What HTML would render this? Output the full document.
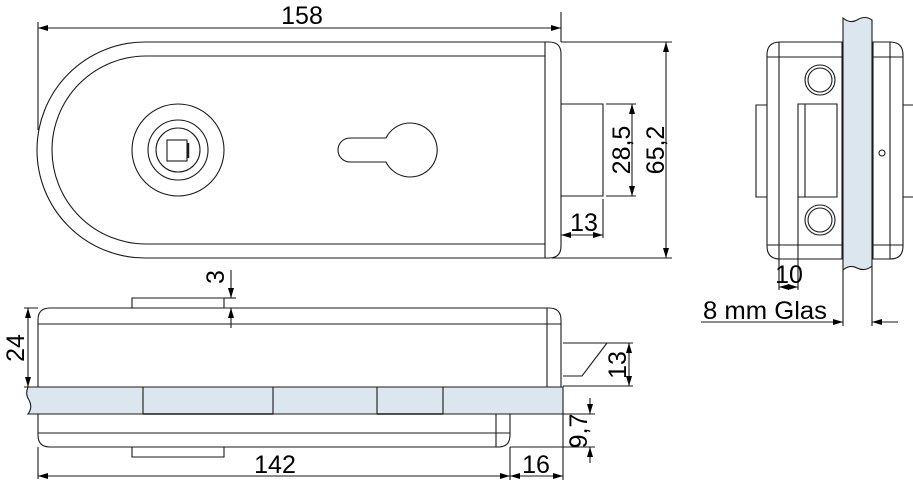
<!DOCTYPE html>
<html><head><meta charset="utf-8"><style>
html,body{margin:0;padding:0;background:#fff;}
svg{display:block;}
text{font-family:"Liberation Sans",sans-serif;font-size:25px;fill:#000;}
</style></head><body>
<svg width="913" height="480" viewBox="0 0 913 480" xmlns="http://www.w3.org/2000/svg">
<defs>
<marker id="a" markerWidth="10" markerHeight="6" refX="10" refY="3" orient="auto-start-reverse" markerUnits="userSpaceOnUse"><path d="M0,0 L10,3 L0,6 z" fill="#000"/></marker>
</defs>
<g fill="none" stroke="#1a1a1a" stroke-width="1.1">
<!-- TOP VIEW -->
<path d="M145,42 H549 Q561,42 561,54 V246 Q561,258 549,258 H145 A108,108 0 0 1 145,42 Z"/>
<path d="M146,56 H545 M545,42 V258 M146,244 H545 M146,56 A94,94 0 0 0 146,244"/>
<circle cx="178" cy="150" r="46"/>
<circle cx="178" cy="150" r="30"/>
<circle cx="178" cy="150" r="22"/>
<rect x="167" y="140" width="20" height="21"/>
<path d="M188,143 V158" stroke-width="2.5"/>
<path d="M386,138 H350 A12,12 0 0 0 350,162 H386 A27,27 0 1 0 386,138 Z"/>
<path d="M561,104 H603 V196 H561"/>
<path d="M38,28 H561" marker-start="url(#a)" marker-end="url(#a)"/>
<path d="M38,22 V130 M561,12 V42"/>
<path d="M606,104 H636 M606,196 H636"/>
<path d="M632,104 V196" marker-start="url(#a)" marker-end="url(#a)"/>
<path d="M561,42 H672 M552,258 H672"/>
<path d="M666,42 V258" marker-start="url(#a)" marker-end="url(#a)"/>
<path d="M603,199 V238"/>
<path d="M561,235 H603" marker-start="url(#a)" marker-end="url(#a)"/>

<!-- SIDE VIEW -->
<path d="M38,387 V320 Q38,308 50,308 H549 Q561,308 561,320 V387"/>
<path d="M38,324 H561 M547,308 V387"/>
<path d="M132,308 V298 H224 V308"/>
<path d="M231,270 V298" marker-end="url(#a)"/>
<path d="M231,328 V308" marker-end="url(#a)"/>
<path d="M224,298 H236"/>
<path d="M28,308 V387" marker-start="url(#a)" marker-end="url(#a)"/>
<path d="M24,308 H38 M24,387 H38"/>
<path d="M28,387 H563 V414 H28 Q33,407 29,400 Q25,394 28,387 Z" fill="#dce6ee"/>
<path d="M143,387 V414 M273,387 V414 M377,387 V414 M443,387 V414"/>
<path d="M143,414 H273 M377,414 H443" stroke-width="1.6"/>
<path d="M38,414 V435 Q38,447 50,447 H498 Q510,447 510,435 V414"/>
<path d="M38,433 H510 M496,414 V447"/>
<path d="M132,447 V457 H224 V447"/>
<path d="M563,343 H607 L582,376 H563"/>
<path d="M607,343 H633 M563,386 H633"/>
<path d="M629,343 V386" marker-start="url(#a)" marker-end="url(#a)"/>
<path d="M38,447 V479 M510,447 V480 M563,414 V480"/>
<path d="M38,476 H510" marker-start="url(#a)" marker-end="url(#a)"/>
<path d="M510,476 H563" marker-start="url(#a)" marker-end="url(#a)"/>
<path d="M563,414 H595 M510,447 H595"/>
<path d="M590,398 V414" marker-end="url(#a)"/>
<path d="M590,463 V447" marker-end="url(#a)"/>

<!-- RIGHT VIEW -->
<path d="M843,42 H780 Q767,42 767,55 V246 Q767,259 780,259 H843"/>
<path d="M779,42 V259 M767,57 H843 M767,245 H843 M842,42 V259"/>
<path d="M767,105 H756 V197 H767"/>
<path d="M873,42 H890 Q903,42 903,55 V246 Q903,259 890,259 H873 Z"/>
<path d="M890,42 V259 M873,57 H903 M873,245 H903"/>
<path d="M903,105 H913 M903,197 H913"/>
<circle cx="882" cy="153" r="3"/>
<circle cx="820" cy="80" r="15"/><circle cx="820" cy="80" r="12"/>
<circle cx="820" cy="220" r="15"/><circle cx="820" cy="220" r="12"/>
<path d="M837,104 H798 V197 H837 Z M805,104 V197"/>
<path d="M798,197 V290 M779,259 V290"/>
<path d="M779,287 H798" marker-start="url(#a)" marker-end="url(#a)"/>
<path d="M843,18 Q850,24 857,20 Q865,15 872,20 V266 Q865,272 857,268 Q850,264 843,270 Z" fill="#dce6ee"/>
<path d="M843,270 V326 M872,266 V326"/>
<path d="M701,322 H843" marker-end="url(#a)"/>
<path d="M898,322 H872" marker-end="url(#a)"/>
</g>
<text x="302" y="24" text-anchor="middle">158</text>
<text transform="translate(630,150) rotate(-90)" text-anchor="middle">28,5</text>
<text transform="translate(664,150) rotate(-90)" text-anchor="middle">65,2</text>
<text x="584" y="231" text-anchor="middle">13</text>
<text transform="translate(224,277) rotate(-90)" text-anchor="middle">3</text>
<text transform="translate(24,348) rotate(-90)" text-anchor="middle">24</text>
<text transform="translate(626,365) rotate(-90)" text-anchor="middle">13</text>
<text transform="translate(587,431) rotate(-90)" text-anchor="middle">9,7</text>
<text x="275" y="473" text-anchor="middle">142</text>
<text x="536" y="473" text-anchor="middle">16</text>
<text x="789" y="283" text-anchor="middle">10</text>
<text x="703" y="319" textLength="124" lengthAdjust="spacingAndGlyphs">8 mm Glas</text>
</svg>
</body></html>
